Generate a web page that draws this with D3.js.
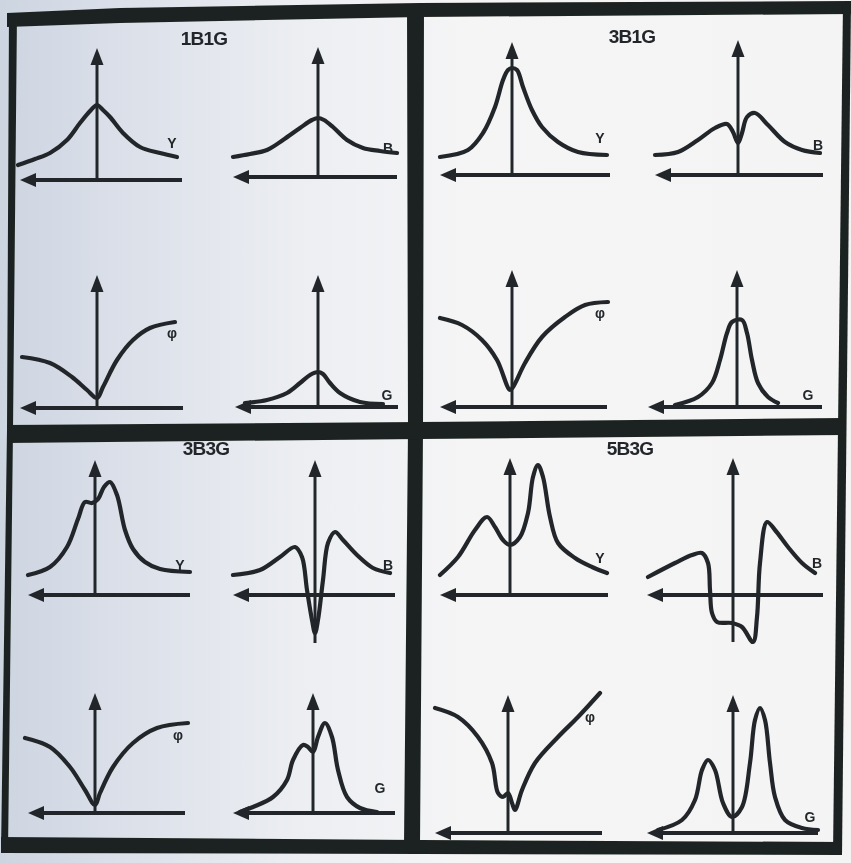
<!DOCTYPE html>
<html>
<head>
<meta charset="utf-8">
<script src="https://cdn.jsdelivr.net/npm/d3@7"></script>
<style>
  html, body { margin: 0; padding: 0; background: #e8ebef; }
  svg { display: block; }
</style>
</head>
<body>
<svg id="chart" width="851" height="863"></svg>
<script>
// ---- Panel titles and the four quantities plotted in each panel ----
const panelTitles = ["1B1G", "3B1G", "3B3G", "5B3G"];
const seriesLabels = ["Y", "B", "φ", "G"];

// ---- Curves: [field offset, response] in plot units (vertical axis at 0, baseline at 0) ----
// 1B1G
const c1Y = [[-7.9,1.5],[-6.2,2.1],[-4.7,2.7],[-3.0,4.0],[-1.7,5.7],[-0.6,7.0],[0,7.5],[0.6,7.0],[1.3,6.3],[2.6,4.7],[4.3,3.3],[6.3,2.7],[8.0,2.3]];
const c1B = [[-8.5,2.0],[-6.8,2.3],[-5.1,2.7],[-3.5,3.7],[-1.8,4.9],[-0.6,5.7],[0,5.9],[0.6,5.7],[1.5,5.0],[2.9,3.7],[4.5,2.9],[6.2,2.6],[7.9,2.4]];
const c1P = [[-7.5,5.1],[-4.7,4.5],[-2.5,3.1],[-1.0,1.8],[0,1.0],[0.6,2.1],[2.0,4.8],[3.6,6.8],[5.3,8.0],[7.8,8.6]];
const c1G = [[-7.3,0.4],[-5.1,0.7],[-3.1,1.4],[-1.8,2.4],[-0.8,3.2],[0,3.5],[0.5,3.3],[1.2,2.4],[2.2,1.4],[4.2,0.5],[6.5,0.3]];
// 3B1G
const c2Y = [[-7.2,1.8],[-4.4,2.5],[-2.9,4.2],[-1.7,6.8],[-0.9,9.5],[-0.4,10.5],[0,10.7],[0.5,10.5],[1.1,8.8],[2.0,6.5],[3.0,4.8],[4.6,3.3],[6.6,2.3],[9.5,2.0]];
const c2B = [[-8.3,2.0],[-6.0,2.3],[-4.0,3.5],[-2.3,4.7],[-1.1,5.1],[-0.5,4.3],[0,3.2],[0.4,4.2],[0.9,5.8],[1.7,6.2],[3.0,5.0],[4.7,3.3],[6.4,2.5],[8.2,2.2]];
const c2P = [[-7.2,8.9],[-5.0,8.2],[-3.0,6.7],[-1.5,4.7],[-0.2,1.7],[0.1,2.0],[1.3,4.4],[3.0,7.0],[5.3,9.0],[7.3,10.2],[9.6,10.5]];
const c2G = [[-6.2,0.2],[-3.9,1.0],[-2.5,2.4],[-1.7,4.7],[-1.0,7.4],[-0.5,8.5],[0.5,8.7],[1.0,7.4],[1.5,4.7],[2.1,2.4],[3.1,1.0],[4.1,0.4]];
// 3B3G
const c3Y = [[-6.7,2.0],[-4.5,2.8],[-2.8,4.8],[-1.7,7.6],[-1.0,9.3],[-0.3,9.2],[0.3,9.6],[0.9,10.8],[1.5,11.3],[2.2,10.0],[3.0,6.5],[3.8,4.6],[5.0,3.3],[6.5,2.6],[9.5,2.3]];
const c3B = [[-8.2,2.0],[-5.5,2.5],[-3.5,3.8],[-2.0,4.8],[-1.3,3.8],[-0.8,0.5],[-0.3,-2.5],[0,-3.8],[0.3,-2.5],[0.8,1.5],[1.3,5.2],[2.0,6.3],[2.8,5.5],[4.2,4.0],[5.8,2.7],[7.5,2.2]];
const c3P = [[-7.0,7.5],[-4.5,6.6],[-2.5,4.6],[-1.0,2.3],[0,0.8],[0.5,2.0],[1.8,4.6],[3.8,7.0],[6.2,8.5],[9.3,9.0]];
const c3G = [[-7.3,0.1],[-6.0,0.6],[-4.0,1.6],[-2.6,3.3],[-2.0,5.3],[-1.0,6.8],[-0.5,6.6],[0,6.1],[0.5,7.6],[1.2,9.0],[1.9,7.6],[2.5,4.3],[3.4,1.6],[4.7,0.5],[6.4,0.1]];
// 5B3G
const c4Y = [[-7.0,2.0],[-5.2,3.8],[-3.5,6.5],[-2.3,7.8],[-1.5,6.8],[-0.7,5.5],[0,5.0],[1.0,5.8],[1.8,8.2],[2.3,11.8],[2.8,13.0],[3.3,11.8],[4.0,7.8],[4.8,5.2],[6.5,3.7],[8.2,2.8],[9.7,2.2]];
const c4B = [[-8.5,1.8],[-5.8,3.2],[-4.1,4.0],[-3.1,4.2],[-2.5,3.2],[-2.3,0.5],[-2.1,-1.8],[-1.6,-2.7],[-0.1,-2.8],[0.9,-3.2],[2.0,-4.7],[2.4,-2.2],[2.7,3.2],[3.4,7.3],[4.2,6.5],[5.5,4.8],[6.9,3.2],[8.2,2.2]];
const c4P = [[-7.3,12.5],[-5.0,11.6],[-3.0,9.6],[-1.6,7.0],[-1.0,4.0],[-0.5,3.6],[0,4.0],[0.4,3.0],[0.7,2.3],[1.4,4.3],[2.7,7.0],[5.0,9.6],[7.0,11.6],[9.2,14.0]];
const c4G = [[-7.5,0.3],[-5.1,1.3],[-3.8,3.3],[-3.1,6.3],[-2.5,7.3],[-1.8,6.3],[-1.0,3.0],[-0.1,1.6],[0.9,2.6],[1.7,7.0],[2.2,11.3],[2.7,12.5],[3.2,11.3],[3.7,7.0],[4.2,3.6],[5.2,1.3],[6.9,0.5],[8.5,0.3]];

// ---- Axis spans per plot, in plot units: [xMin (arrow tip), xMax, yMin, yMax (arrow tip)] ----
const spans1 = [[-7.7,8.5,0,13.2],[-8.5,7.9,0,13.0],[-7.7,8.6,0,13.3],[-8.3,8.0,0,13.2]];
const spans2 = [[-7.2,9.8,0,13.3],[-8.3,8.5,0,13.5],[-7.2,9.5,0,13.7],[-8.9,8.5,0,13.7]];
const spans3 = [[-6.7,9.5,0,13.5],[-8.2,8.0,-4.8,13.5],[-6.7,9.0,0,12.0],[-8.0,8.2,0,12.0]];
const spans4 = [[-7.0,9.8,0,13.7],[-8.6,9.0,-4.7,13.7],[-7.3,9.4,0,13.8],[-8.6,8.5,0,13.8]];

// ---- Layout: axis-origin pixel positions and label offsets (plot units) ----
const UNIT = 10;
const origins = [
  [[97,180],[318,177],[97,408],[318,407]],
  [[512,175],[738,175],[512,407],[737,407]],
  [[95,595],[315,595],[95,813],[313,813]],
  [[510,595],[733,595],[508,833],[733,833]]
];
const labelOffsets = [
  [[7.5,3.7],[7.0,2.9],[7.5,7.5],[6.9,1.2]],
  [[8.8,3.7],[8.0,3.0],[8.8,9.4],[7.1,1.2]],
  [[8.5,3.0],[7.3,3.0],[8.3,7.8],[6.7,2.5]],
  [[9.0,3.7],[8.4,3.2],[8.2,11.6],[7.7,1.6]]
];
const titlePos = [[204,45],[632,43],[206,455],[630,455]];

const curves = [[c1Y,c1B,c1P,c1G],[c2Y,c2B,c2P,c2G],[c3Y,c3B,c3P,c3G],[c4Y,c4B,c4P,c4G]];
const spans = [spans1, spans2, spans3, spans4];

const INK = "#23282a";
const FRAME = "#1d2420";

const svg = d3.select("#chart");

// ---- Paper background ----
const defs = svg.append("defs");
const grad = defs.append("linearGradient").attr("id", "paper").attr("x1", 0).attr("x2", 1).attr("y1", 0).attr("y2", 0);
grad.append("stop").attr("offset", "0").attr("stop-color", "#cdd5e1");
grad.append("stop").attr("offset", "0.12").attr("stop-color", "#d9dee8");
grad.append("stop").attr("offset", "0.35").attr("stop-color", "#eceef2");
grad.append("stop").attr("offset", "0.55").attr("stop-color", "#f5f5f6");
grad.append("stop").attr("offset", "1").attr("stop-color", "#f4f4f4");
svg.append("rect").attr("width", 851).attr("height", 863).attr("fill", "url(#paper)");

const blur = defs.append("filter").attr("id", "ink").attr("x", "-5%").attr("y", "-5%").attr("width", "110%").attr("height", "110%");
blur.append("feGaussianBlur").attr("stdDeviation", 0.45);

// ---- Frame and dividers (thick printed rules) ----
const frameBands = [
  [[7,13],[120,8],[420,3],[851,1],[851,14],[420,17],[120,23],[7,27]],   // top
  [[9,13],[17,13],[13,430],[8,853],[1,853],[7,430]],                   // left
  [[843,2],[851,2],[842,855],[833,855]],                                 // right
  [[1,837],[420,840],[842,842],[842,855],[420,854],[1,853]],             // bottom
  [[407,5],[424,5],[423,430],[420,845],[404,845],[408,430]],             // vertical divider
  [[7,425],[420,422],[843,418],[843,435],[420,439],[7,443]]              // horizontal divider
];
svg.append("g").selectAll("path").data(frameBands).join("path")
  .attr("d", d => d3.line()(d) + "Z")
  .attr("fill", FRAME)
  .attr("filter", "url(#ink)");

// ---- Small plots ----
const plotsG = svg.append("g").attr("filter", "url(#ink)");

panelTitles.forEach((title, p) => {
  plotsG.append("text")
    .attr("x", titlePos[p][0]).attr("y", titlePos[p][1])
    .attr("text-anchor", "middle")
    .attr("font-family", "'Liberation Sans', Arial, sans-serif")
    .attr("font-weight", "bold").attr("font-size", 19)
    .attr("letter-spacing", -0.8)
    .attr("fill", INK)
    .text(title);

  seriesLabels.forEach((lab, s) => {
    const [ox, oy] = origins[p][s];
    const x = d3.scaleLinear().domain([0, 1]).range([ox, ox + UNIT]);
    const y = d3.scaleLinear().domain([0, 1]).range([oy, oy - UNIT]);
    const [xMin, xMax, yMin, yMax] = spans[p][s];
    const g = plotsG.append("g");

    // curve
    g.append("path")
      .datum(curves[p][s])
      .attr("d", d3.line().x(d => x(d[0])).y(d => y(d[1])).curve(d3.curveCatmullRom.alpha(0.5)))
      .attr("fill", "none").attr("stroke", INK)
      .attr("stroke-width", 4.2).attr("stroke-linejoin", "round").attr("stroke-linecap", "round");

    // horizontal axis with arrow pointing left
    const ah = 16, aw = 7;
    g.append("line")
      .attr("x1", x(xMin) + ah - 2).attr("x2", x(xMax))
      .attr("y1", y(0)).attr("y2", y(0))
      .attr("stroke", INK).attr("stroke-width", 4);
    g.append("path")
      .attr("d", d3.line()([[x(xMin), y(0)], [x(xMin) + ah, y(0) - aw], [x(xMin) + ah, y(0) + aw]]) + "Z")
      .attr("fill", INK);

    // vertical axis with arrow pointing up
    const vh = 17, vw = 6.5;
    g.append("line")
      .attr("x1", x(0)).attr("x2", x(0))
      .attr("y1", y(yMin)).attr("y2", y(yMax) + vh - 2)
      .attr("stroke", INK).attr("stroke-width", 3);
    g.append("path")
      .attr("d", d3.line()([[x(0), y(yMax)], [x(0) - vw, y(yMax) + vh], [x(0) + vw, y(yMax) + vh]]) + "Z")
      .attr("fill", INK);

    // series label
    g.append("text")
      .attr("x", x(labelOffsets[p][s][0])).attr("y", y(labelOffsets[p][s][1]))
      .attr("dy", "0.35em")
      .attr("text-anchor", "middle")
      .attr("font-family", "'Liberation Sans', Arial, sans-serif")
      .attr("font-weight", "bold").attr("font-size", 14)
      .attr("fill", INK)
      .text(lab);
  });
});
</script>
</body>
</html>
